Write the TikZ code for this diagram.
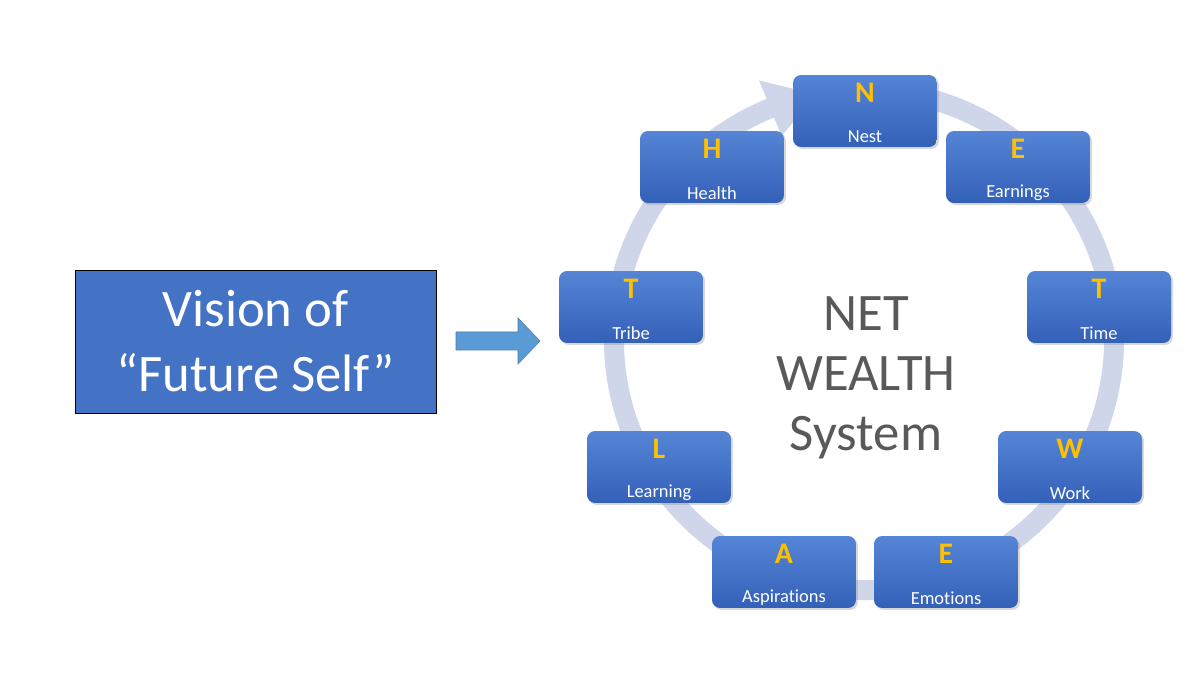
\documentclass[tikz,border=0pt]{standalone}
\usepackage{fontspec}
\setmainfont{Carlito}[Ligatures={NoCommon}]
\usetikzlibrary{shadows,calc}
\definecolor{boxblue}{HTML}{4472C4}
\definecolor{topblue}{HTML}{5585D6}
\definecolor{botblue}{HTML}{3461B8}
\definecolor{ring}{HTML}{CFD6EA}
\definecolor{arrowblue}{HTML}{5B9BD5}
\definecolor{gold}{HTML}{FFC000}
\definecolor{txtgray}{HTML}{595959}
\tikzset{
  px/.style={x=0.02cm,y=-0.02cm},
  pill/.style={rounded corners=0.16cm, top color=topblue, bottom color=botblue, minimum width=2.88cm, minimum height=1.44cm, drop shadow={opacity=0.3,shadow xshift=0.04cm,shadow yshift=-0.04cm}},
  letter/.style={text=gold, font=\fontsize{17}{17}\selectfont\bfseries},
  word/.style={text=white, font=\fontsize{10.5}{11}\selectfont}
}
\newcommand{\pillnode}[4]{%
  \node[pill] (#1) at #2 {};
  \node[letter] (#1l) at ([yshift=-0.36cm]#1.north) {#3};
  \node[word] (#1w) at ([yshift=0.21cm]#1.south) {#4};
}
\begin{document}
\begin{tikzpicture}[px]
\useasboundingbox (0,0) rectangle (1200,675);
\fill[white] (0,0) rectangle (1200,675);
% ring
\coordinate (ringc) at (864,340);
\draw[ring, line width=0.4cm] ($(ringc)+(-78:250)$) arc[start angle=-78, end angle=253, radius=250];
\fill[ring] ($(ringc)+(-112:220)$) -- ($(ringc)+(-112:280)$) -- ($(ringc)+(-101:250)$) -- cycle;
% left box
\node[draw=black, fill=boxblue, minimum width=7.22cm, minimum height=2.86cm, text=white, align=center, font=\fontsize{30}{37}\selectfont] (vision) at (255.5,341.5) {Vision of\\“Future Self”};
% block arrow
\fill[arrowblue, draw=arrowblue!80!black, line width=0.3pt] (456,332) -- (518,332) -- (518,318) -- (540,341) -- (518,364) -- (518,350) -- (456,350) -- cycle;
% center text
\node[text=txtgray, align=center, font=\fontsize{30}{34}\selectfont] (center) at (866,378) {NET\\WEALTH\\System};
% pills
\pillnode{n}{(865,111)}{N}{Nest}
\pillnode{e1}{(1018,167)}{E}{Earnings}
\pillnode{t1}{(1099,307)}{T}{Time}
\pillnode{w}{(1070,467)}{W}{Work}
\pillnode{e2}{(946,572)}{E}{Emotions}
\pillnode{a}{(784,572)}{A}{Aspirations}
\pillnode{l}{(659,467)}{L}{Learning}
\pillnode{t2}{(631,307)}{T}{Tribe}
\pillnode{h}{(712,167)}{H}{Health}
\end{tikzpicture}
\end{document}
